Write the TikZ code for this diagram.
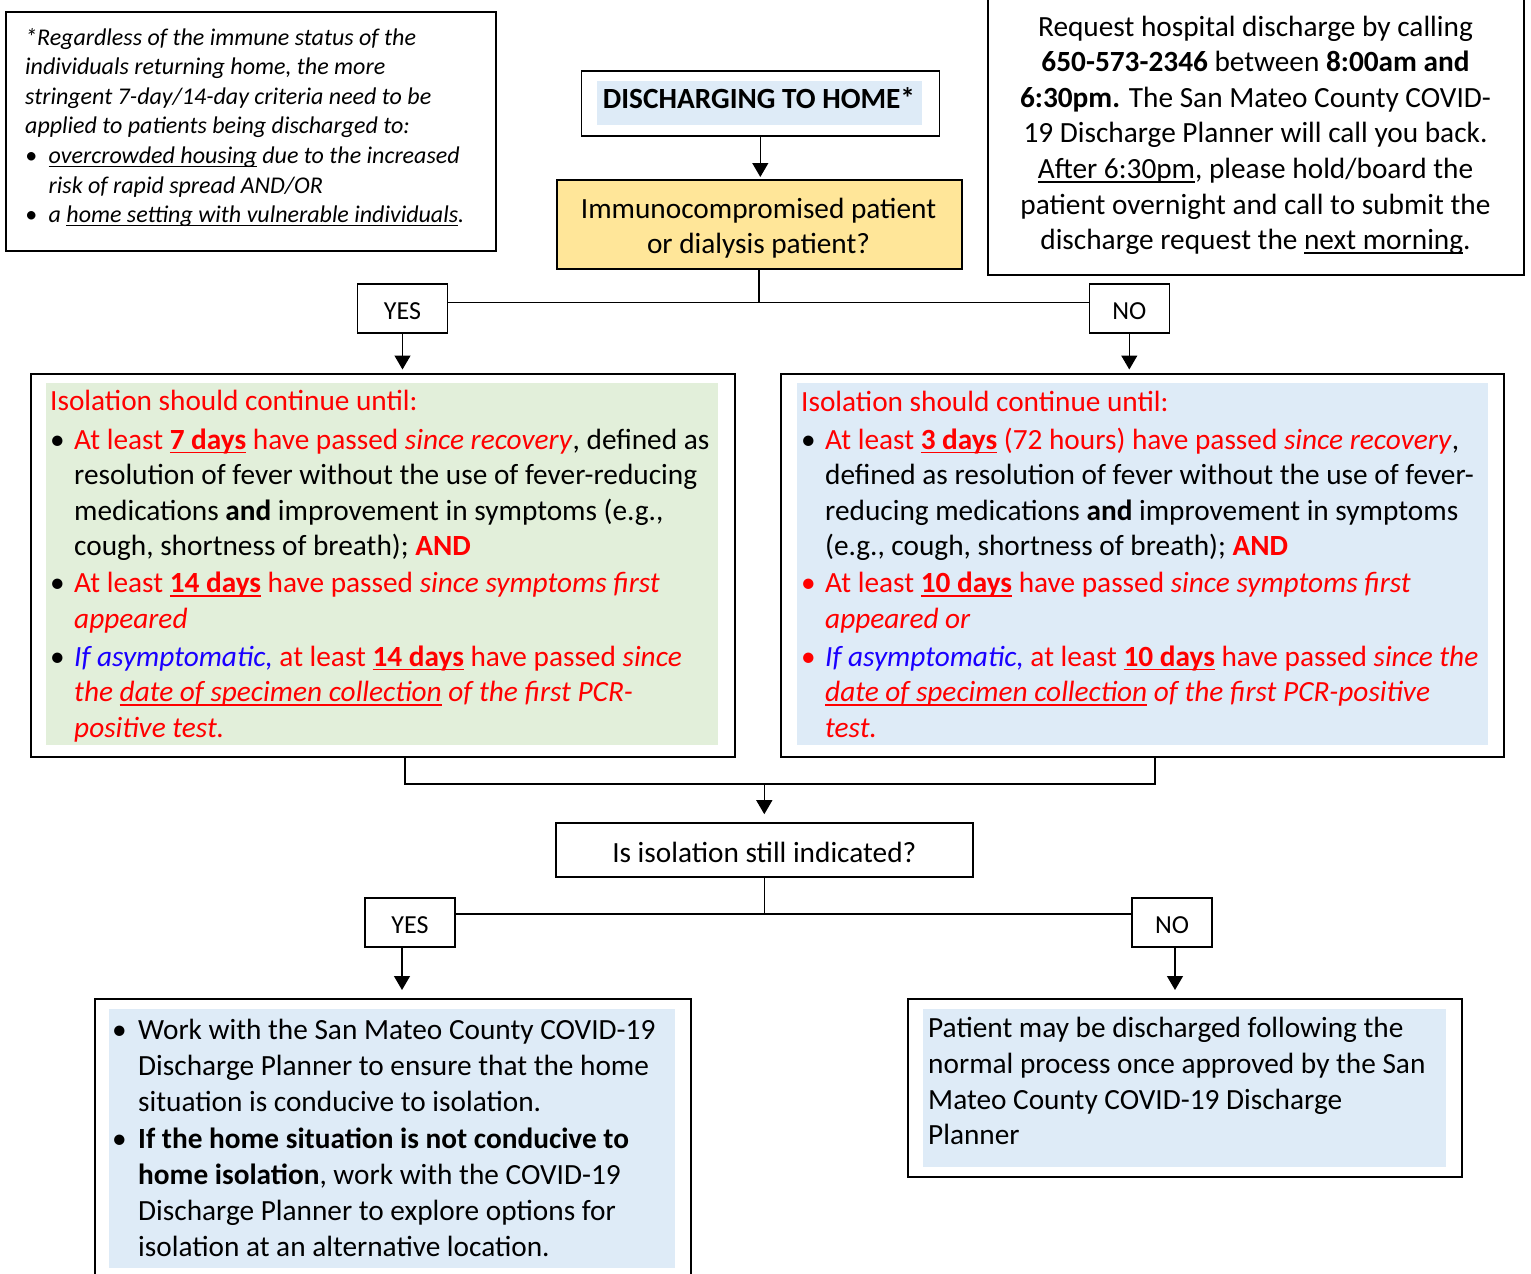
\documentclass[tikz,border=0pt]{standalone}
\usepackage{fontspec}
\setmainfont{Carlito}
\usetikzlibrary{arrows.meta}
\definecolor{fgreen}{HTML}{E2EFDA}
\definecolor{fblue}{HTML}{DEEBF7}
\definecolor{fyellow}{HTML}{FFE699}
\definecolor{rtxt}{HTML}{FF0000}
\definecolor{btxt}{HTML}{1A00FF}
\newcommand{\mainsz}{\fontsize{29.3}{35.5}\selectfont}
\newcommand{\bul}[1]{\makebox[#1][l]{\textbullet}}
\newcommand{\rbul}[1]{\makebox[#1][l]{\color{rtxt}\textbullet}}
\newsavebox{\ulbox}
\newcommand{\myul}[1]{\leavevmode\sbox{\ulbox}{#1}\rlap{\rule[-4.2pt]{\wd\ulbox}{1.6pt}}\usebox{\ulbox}}
\newcommand{\myuls}[1]{\leavevmode\sbox{\ulbox}{#1}\rlap{\rule[-3.8pt]{\wd\ulbox}{1.3pt}}\usebox{\ulbox}}
\begin{document}
\begin{tikzpicture}[x=1pt,y=-1pt,
  box/.style={draw=black, line width=1.6pt, inner sep=0pt},
  conn/.style={draw=black, line width=1.3pt},
  arr/.style={conn, -{Triangle[width=16pt,length=14pt]}},
  txt/.style={inner sep=0pt, anchor=base west},
  ctxt/.style={inner sep=0pt, anchor=base},
  yn/.style={box, minimum width=90pt, minimum height=49pt, font=\fontsize{26}{30}\selectfont, text height=21.4pt, text depth=0pt}
]
\useasboundingbox (0,0) rectangle (1531,1274);
\fill[white] (0,0) rectangle (1531,1274);

% ---------- top-left note ----------
\node[box, anchor=north west, minimum width=490pt, minimum height=239pt] (note) at (5,11) {};
\node[txt] (notetxt) at (25,45) {\parbox[t]{470pt}{\leavevmode\raggedright\fontsize{24}{29.6}\selectfont\itshape
*Regardless of the immune status of the\\
individuals returning home, the more\\
stringent 7-day/14-day criteria need to be\\
applied to patients being discharged to:\\
\bul{23.5pt}\myuls{overcrowded housing} due to the increased\\
\hspace*{23.5pt}risk of rapid spread AND/OR\\
\bul{23.5pt}a \myuls{home setting with vulnerable individuals}.}};

% ---------- top-right request ----------
\node[box, anchor=north west, minimum width=536pt, minimum height=289pt] (reqbox) at (987,-15) {};
\node[ctxt] (reqtxt) at (1255.5,36) {\parbox[t]{530pt}{\leavevmode\centering\fontsize{29.3}{35.6}\selectfont
Request hospital discharge by calling\\
\textbf{650-573-2346} between \textbf{8:00am and}\\
\textbf{6:30pm.} The San Mateo County COVID-\\
19 Discharge Planner will call you back.\\
\myul{After 6:30pm}, please hold/board the\\
patient overnight and call to submit the\\
discharge request the \myul{next morning}.}};

% ---------- discharging to home ----------
\node[box, anchor=north west, minimum width=358pt, minimum height=65pt] (disc) at (580.5,70) {};
\fill[fblue] (597,81) rectangle (922,125);
\node[ctxt] (disctxt) at (759,108.5) {\fontsize{29.3}{35.5}\selectfont\bfseries DISCHARGING TO HOME*};

% ---------- immunocompromised ----------
\node[box, fill=fyellow, anchor=north west, minimum width=405pt, minimum height=89pt] (ybox) at (556,179) {};
\node[ctxt] (ytxt) at (758.5,218.3) {\parbox[t]{400pt}{\leavevmode\centering\fontsize{29.3}{35}\selectfont
Immunocompromised patient\\or dialysis patient?}};

\draw[arr, shorten >=2pt] (disc.south) -- (disc.south |- ybox.north);

% ---------- YES / NO (1) ----------
\node[yn] (yes1) at (402.5,308.3) {YES};
\node[yn, minimum width=80pt] (no1) at (1129.3,308.3) {NO};
\coordinate (j1) at (759,302.5);
\draw[conn] (ybox.south -| j1) -- (j1);
\draw[conn] (yes1.east |- j1) -- (no1.west |- j1);

% ---------- big boxes ----------
\node[box, anchor=north west, minimum width=704pt, minimum height=383pt] (lbox) at (30,373) {};
\fill[fgreen] (46,383) rectangle (718,745);
\node[box, anchor=north west, minimum width=723pt, minimum height=383pt] (rbox) at (780,373) {};
\fill[fblue] (797,383) rectangle (1488,745);

\draw[arr, shorten >=3.5pt] (yes1.south) -- (yes1.south |- lbox.north);
\draw[arr, shorten >=3.5pt] (no1.south) -- (no1.south |- rbox.north);

\node[txt] (ltxt) at (50,410.5) {\parbox[t]{690pt}{\leavevmode\raggedright\mainsz
{\color{rtxt}Isolation should continue until:}\\[3pt]
\bul{24pt}{\color{rtxt}At least \textbf{\myul{7 days}} have passed \textit{since recovery}}, defined as\\
\hspace*{24pt}resolution of fever without the use of fever-reducing\\
\hspace*{24pt}medications \textbf{and} improvement in symptoms (e.g.,\\
\hspace*{24pt}cough, shortness of breath); {\color{rtxt}\textbf{AND}}\\[1.5pt]
\bul{24pt}{\color{rtxt}At least \textbf{\myul{14 days}} have passed \textit{since symptoms first}}\\
\hspace*{24pt}{\color{rtxt}\textit{appeared}}\\[2.5pt]
\bul{24pt}{\color{btxt}\textit{If asymptomatic,}} {\color{rtxt}at least \textbf{\myul{14 days}} have passed \textit{since}}\\
\hspace*{24pt}{\color{rtxt}\textit{the \myul{date of specimen collection} of the first PCR-}}\\
\hspace*{24pt}{\color{rtxt}\textit{positive test.}}}};

\node[txt] (rtxtnode) at (801,411) {\parbox[t]{700pt}{\leavevmode\raggedright\mainsz
{\color{rtxt}Isolation should continue until:}\\[2.5pt]
\bul{24pt}{\color{rtxt}At least \textbf{\myul{3 days}} (72 hours) have passed \textit{since recovery}},\\
\hspace*{24pt}defined as resolution of fever without the use of fever-\\
\hspace*{24pt}reducing medications \textbf{and} improvement in symptoms\\
\hspace*{24pt}(e.g., cough, shortness of breath); {\color{rtxt}\textbf{AND}}\\[1.5pt]
\rbul{24pt}{\color{rtxt}At least \textbf{\myul{10 days}} have passed \textit{since symptoms first}}\\
\hspace*{24pt}{\color{rtxt}\textit{appeared or}}\\[2.5pt]
\rbul{24pt}{\color{btxt}\textit{If asymptomatic,}} {\color{rtxt}at least \textbf{\myul{10 days}} have passed \textit{since the}}\\
\hspace*{24pt}{\color{rtxt}\textit{\myul{date of specimen collection} of the first PCR-positive}}\\
\hspace*{24pt}{\color{rtxt}\textit{test.}}}};

% ---------- merge to question ----------
\coordinate (m1) at (405,784);
\coordinate (m2) at (1155,784);
\node[box, anchor=center, minimum width=417pt, minimum height=54pt, font=\fontsize{29.3}{35.5}\selectfont, text height=25.4pt, text depth=0pt] (isol) at (764.3,850) {Is isolation still indicated?};
\draw[conn] (lbox.south -| m1) -- (m1) -- (m2) -- (rbox.south -| m2);
\draw[arr, shorten >=8pt] (m1 -| isol.north) -- (isol.north);

% ---------- YES / NO (2) ----------
\node[yn] (yes2) at (410,922.5) {YES};
\node[yn, minimum width=80pt] (no2) at (1172,922.5) {NO};
\coordinate (j2) at (764.3,914);
\draw[conn] (isol.south) -- (j2);
\draw[conn] (yes2.east |- j2) -- (no2.west |- j2);

% ---------- bottom boxes ----------
\node[box, anchor=north west, minimum width=596pt, minimum height=300pt] (blbox) at (94,998) {};
\fill[fblue] (109,1009) rectangle (675,1268);
\node[box, anchor=north west, minimum width=554pt, minimum height=178pt] (brbox) at (907,998) {};
\fill[fblue] (922.5,1009) rectangle (1446,1166.5);

\draw[arr, shorten >=8pt] (yes2.south -| 402,0) -- (blbox.north -| 402,0);
\draw[arr, shorten >=8pt] (no2.south -| 1175,0) -- (brbox.north -| 1175,0);

\node[txt] (bltxt) at (112,1039.5) {\parbox[t]{570pt}{\leavevmode\raggedright\fontsize{29.3}{36.2}\selectfont
\bul{26pt}Work with the San Mateo County COVID-19\\
\hspace*{26pt}Discharge Planner to ensure that the home\\
\hspace*{26pt}situation is conducive to isolation.\\
\bul{26pt}\textbf{If the home situation is not conducive to}\\
\hspace*{26pt}\textbf{home isolation}, work with the COVID-19\\
\hspace*{26pt}Discharge Planner to explore options for\\
\hspace*{26pt}isolation at an alternative location.}};

\node[txt] (brtxt) at (928,1037.5) {\parbox[t]{520pt}{\leavevmode\raggedright\fontsize{29.3}{35.8}\selectfont
Patient may be discharged following the\\
normal process once approved by the San\\
Mateo County COVID-19 Discharge\\
Planner}};
\end{tikzpicture}
\end{document}
